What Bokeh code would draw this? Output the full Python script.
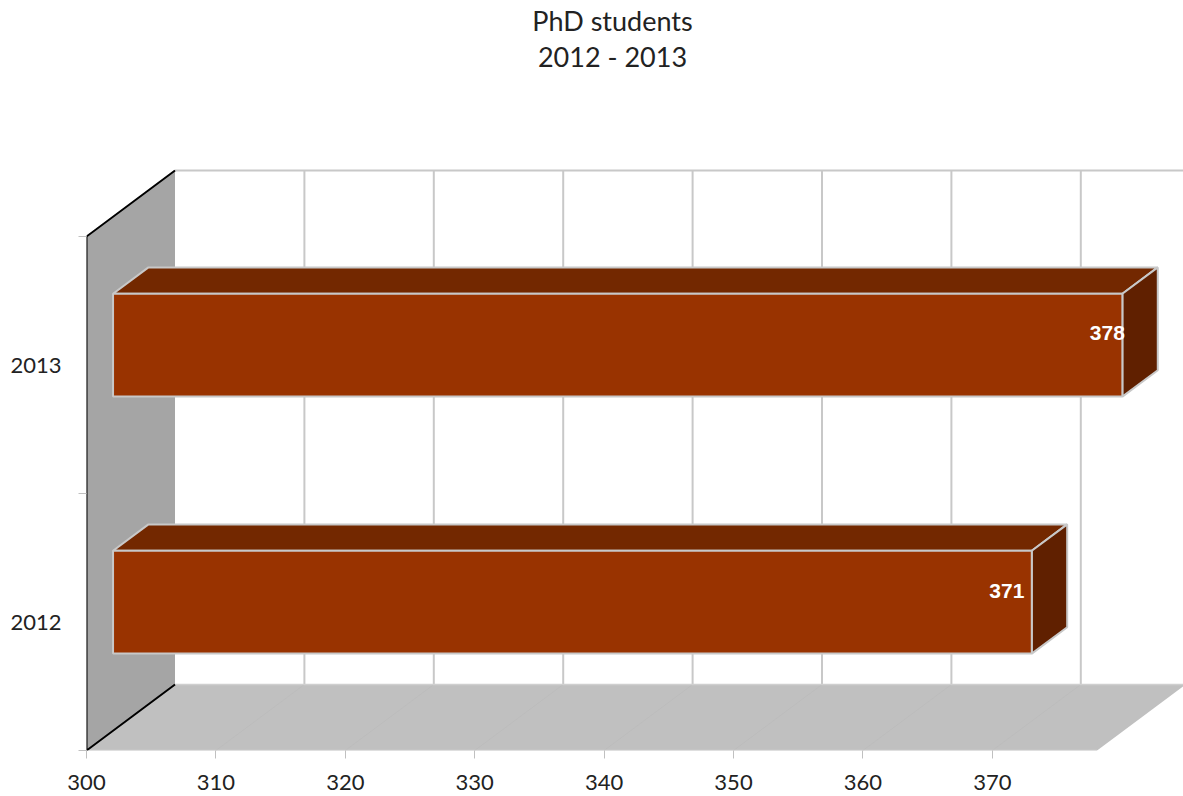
from bokeh.embed import file_html
from bokeh.resources import INLINE
from bokeh.plotting import figure
from bokeh.models import Range1d, FixedTicker, Label, ColumnDataSource

# ---- data
title_lines = ["PhD students", "2012 - 2013"]
categories = ["2012", "2013"]
students = [371, 378]
x_ticks = [300, 310, 320, 330, 340, 350, 360, 370]
x_base = 300
x_end = 378.1

# ---- 3D projection (in axis units)
PX_X = 12.94          # pixels per student
PX_Y = 257.0          # pixels per category band
DX = 88.5 / PX_X      # chart depth along x
DY = 66.0 / PX_Y      # chart depth along y
GAP = 0.3             # gap on each side of a bar, in band and depth fractions
SIZE = 0.4            # bar thickness, in band and depth fractions

FRONT = "#993300"
TOP = "#732800"
SIDE = "#602000"
EDGE = "#c8c8c8"

FIG_W, FIG_H = 1183, 796
LEFT, BOTTOM = 86, 46
x0 = x_base
y1 = (FIG_H - BOTTOM) / PX_Y

p = figure(width=FIG_W, height=FIG_H, output_backend="svg", toolbar_location=None,
           x_range=Range1d(x0, x0 + (FIG_W - LEFT) / PX_X), y_range=Range1d(0, y1),
           min_border_left=LEFT, min_border_right=0, min_border_top=0, min_border_bottom=BOTTOM,
           outline_line_color=None, background_fill_color="white", border_fill_color="white")
p.grid.visible = False

n = len(categories)

# floor
p.patch([x_base, x_end, x_end + DX, x_base + DX], [0, 0, DY, DY], fill_color="#c0c0c0", line_color=None)
# left wall
p.patch([x_base, x_base + DX, x_base + DX, x_base], [0, DY, n + DY, n], fill_color="#a5a5a5", line_color=None)

# back wall grid + floor grid
for t in x_ticks[1:]:
    p.line([t + DX, t + DX], [DY, n + DY], line_color=EDGE, line_width=2)
    p.line([t, t + DX], [0, DY], line_color="#bcbcbc", line_width=1)
p.line([x_base + DX, x_end + DX], [n + DY, n + DY], line_color=EDGE, line_width=2)
p.line([x_base + DX, x_end + DX], [DY, DY], line_color="#cfcfcf", line_width=1.5)
p.line([x_base, x_end], [0, 0], line_color="#d0d0d0", line_width=1.5)

# wall outline
p.line([x_base + DX, x_base, x_base, x_base + DX], [n + DY, n, 0, DY], line_color="black", line_width=2)

# 3D bars
for i, v in enumerate(students):
    left = x_base + GAP * DX
    right = v + GAP * DX
    bottom = i + GAP + GAP * DY
    top = i + GAP + SIZE + GAP * DY
    dx, dy = SIZE * DX, SIZE * DY
    faces = ColumnDataSource(dict(
        xs=[[left, right, right + dx, left + dx],
            [right, right + dx, right + dx, right],
            [left, right, right, left]],
        ys=[[top, top, top + dy, top + dy],
            [bottom, bottom + dy, top + dy, top],
            [bottom, bottom, top, top]],
        c=[TOP, SIDE, FRONT],
    ))
    p.patches("xs", "ys", source=faces, fill_color="c", line_color=EDGE, line_width=2)

# value labels
label_dx = [-25, -15]
label_dy = [11, 12]
for i, v in enumerate(students):
    p.add_layout(Label(x=v + GAP * DX, y=i + 0.5 + GAP * DY, text=str(v),
                       x_offset=label_dx[i], y_offset=label_dy[i],
                       text_align="center", text_baseline="middle",
                       text_color="white", text_font="Liberation Sans", text_font_style="bold",
                       text_font_size="21px"))

# title
for line, py in zip(title_lines, (20, 56)):
    p.add_layout(Label(x=x_base + (612 - 86) / PX_X, y=(750 - py) / PX_Y, text=line,
                       text_align="center", text_baseline="middle", text_color="#222222",
                       text_font="Lato", text_font_size="27px"))

# axes
xa = p.xaxis[0]
xa.ticker = FixedTicker(ticks=x_ticks)
xa.axis_line_color = None
xa.major_tick_line_color = "#c0c0c0"
xa.major_tick_out = 8
xa.major_tick_in = 0
xa.minor_tick_line_color = None
xa.major_label_standoff = 16
xa.major_label_text_font = "Lato"
xa.major_label_text_font_size = "22px"
xa.major_label_text_color = "#222222"

ya = p.yaxis[0]
ya.ticker = FixedTicker(ticks=[i + 0.5 for i in range(n)], minor_ticks=list(range(n + 1)))
ya.major_label_overrides = {i + 0.5: c for i, c in enumerate(categories)}
ya.axis_line_color = None
ya.major_tick_line_color = None
ya.major_tick_out = 0
ya.major_tick_in = 0
ya.minor_tick_line_color = "#c0c0c0"
ya.minor_tick_out = 8
ya.minor_tick_in = 0
ya.major_label_standoff = 17
ya.major_label_text_font = "Lato"
ya.major_label_text_font_size = "22px"
ya.major_label_text_color = "#222222"

open("out.html", "w").write(file_html(p, INLINE))
